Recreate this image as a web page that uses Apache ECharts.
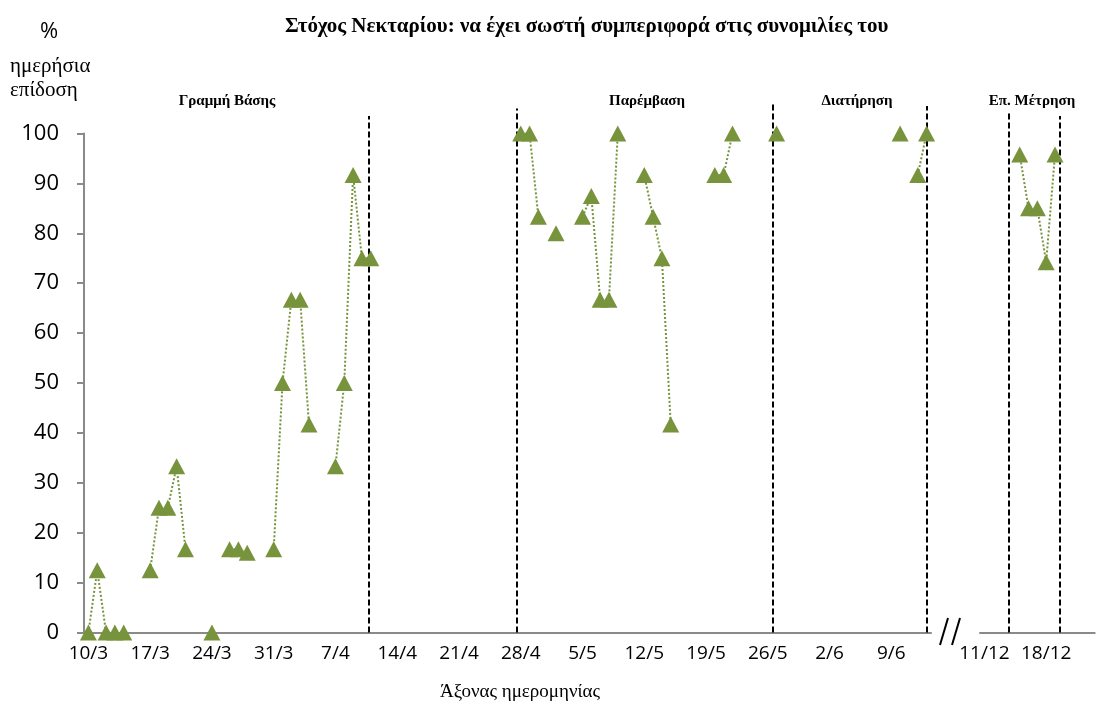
<!DOCTYPE html>
<html lang="el">
<head>
<meta charset="UTF-8">
<script src="https://cdn.jsdelivr.net/npm/echarts@6/dist/echarts.min.js"></script>
<style>
  html, body { margin: 0; background: #fff; }
  #chart { width: 1096px; height: 702px; }
</style>
</head>
<body>
<div id="chart"></div>
<script>
    // one category per day, labels as d/m
    function dayRange(y, m, d, count) {
        var out = [];
        var t0 = Date.UTC(y, m - 1, d);
        for (var i = 0; i < count; i++) {
            var dt = new Date(t0 + i * 86400000);
            out.push(dt.getUTCDate() + '/' + (dt.getUTCMonth() + 1));
        }
        return out;
    }
    var springDays = dayRange(2013, 3, 10, 96);   // 10/3 .. 13/6
    var winterDays = dayRange(2013, 12, 11, 13);  // 11/12 .. 23/12

    var baseline = [
        ['10/3', 0], ['11/3', 12.5], ['12/3', 0], ['13/3', 0], ['14/3', 0],
        ['17/3', 12.5], ['18/3', 25], ['19/3', 25], ['20/3', 33.3], ['21/3', 16.7],
        ['24/3', 0],
        ['26/3', 16.7], ['27/3', 16.7], ['28/3', 16],
        ['31/3', 16.7], ['1/4', 50], ['2/4', 66.7], ['3/4', 66.7], ['4/4', 41.7],
        ['7/4', 33.3], ['8/4', 50], ['9/4', 91.7], ['10/4', 75], ['11/4', 75]
    ];
    var intervention = [
        ['28/4', 100], ['29/4', 100], ['30/4', 83.3],
        ['2/5', 80],
        ['5/5', 83.3], ['6/5', 87.5], ['7/5', 66.7], ['8/5', 66.7], ['9/5', 100],
        ['12/5', 91.7], ['13/5', 83.3], ['14/5', 75], ['15/5', 41.7],
        ['20/5', 91.7], ['21/5', 91.7], ['22/5', 100]
    ];
    var maintenance = [
        ['27/5', 100], ['10/6', 100], ['12/6', 91.7], ['13/6', 100]
    ];
    var followUp = [
        ['15/12', 95.8], ['16/12', 85], ['17/12', 85], ['18/12', 74.2], ['19/12', 95.8]
    ];

    // phase change lines, in days from the start of each axis segment
    var springChanges = [32.3, 49.1, 78.06, 95.5];
    var springChangeTops = [103.5, 105, 106.2, 105.5];
    var winterChanges = [3.25, 9.0];
    var winterChangeTops = [104.4, 103.5];

    var phaseNames = ['Γραμμή Βάσης', 'Παρέμβαση', 'Διατήρηση', 'Επ. Μέτρηση'];
    var phaseNameX = [227, 647, 857, 1032];

    function fill(days, pts) {
        var m = {};
        pts.forEach(function (p) { m[p[0]] = p[1]; });
        return days.map(function (d) { return m.hasOwnProperty(d) ? m[d] : null; });
    }

    var green = '#77933C';
    var axisGray = '#8a8a8a';
    var weekly = function (idx) { return idx % 7 === 0; };

    function dataSeries(xi, yi, values) {
        return {
            type: 'line', xAxisIndex: xi, yAxisIndex: yi,
            data: values, connectNulls: false, showAllSymbol: true,
            symbol: 'triangle', symbolSize: [17, 16],
            itemStyle: {color: green},
            lineStyle: {color: green, width: 2, type: 'dotted'},
            emphasis: {disabled: true}, silent: true, z: 3
        };
    }
    function changeSeries(xi, yi, xs, tops) {
        return {
            type: 'lines', coordinateSystem: 'cartesian2d', xAxisIndex: xi, yAxisIndex: yi,
            clip: false, silent: true, z: 2,
            lineStyle: {color: '#000', width: 2, type: [6, 3], opacity: 1},
            data: xs.map(function (x, k) { return {coords: [[x, 0], [x, tops[k]]]}; })
        };
    }

    var catAxis = function (grid, days) {
        return {
            type: 'category', gridIndex: grid, data: days, boundaryGap: true,
            axisLine: {lineStyle: {color: axisGray, width: 2}},
            axisTick: {length: 6, interval: weekly, lineStyle: {color: axisGray, width: 2}},
            axisLabel: {interval: weekly, color: '#000', fontSize: 19, fontFamily: 'Open Sans', margin: 12},
            splitLine: {show: false}
        };
    };

    var serif = '"Liberation Serif", "DejaVu Serif", serif';
    var graphics = [
        {type: 'text', x: 285, y: 27, style: {text: 'Στόχος Νεκταρίου: να έχει σωστή συμπεριφορά στις συνομιλίες του',
            font: 'bold 21px ' + serif, fill: '#000', textAlign: 'left', textVerticalAlign: 'middle'}},
        {type: 'text', x: 49, y: 32, style: {text: '%', font: '22px "Open Sans"', fill: '#000', textAlign: 'center', textVerticalAlign: 'middle'}},
        {type: 'text', x: 10, y: 66, style: {text: 'ημερήσια', font: '21px ' + serif, fill: '#000', textAlign: 'left', textVerticalAlign: 'middle'}},
        {type: 'text', x: 10, y: 90, style: {text: 'επίδοση', font: '21px ' + serif, fill: '#000', textAlign: 'left', textVerticalAlign: 'middle'}},
        {type: 'text', x: 520, y: 692, style: {text: 'Άξονας ημερομηνίας', font: '19px ' + serif, fill: '#000', textAlign: 'center', textVerticalAlign: 'middle'}},
        // axis break marks
        {type: 'line', shape: {x1: 940, y1: 645, x2: 948, y2: 618}, style: {stroke: '#000', lineWidth: 2}},
        {type: 'line', shape: {x1: 952, y1: 645, x2: 960, y2: 618}, style: {stroke: '#000', lineWidth: 2}}
    ];
    phaseNames.forEach(function (n, k) {
        graphics.push({type: 'text', x: phaseNameX[k], y: 101, style: {text: n, font: 'bold 15px ' + serif,
            fill: '#000', textAlign: 'center', textVerticalAlign: 'middle'}});
    });

    var myChart = echarts.init(document.getElementById('chart'));
    myChart.setOption({
        backgroundColor: '#fff',
        animation: false,
        grid: [
            {left: 84, width: 847, top: 133.5, bottom: 69.5},
            {left: 980, width: 114.7, top: 133.5, bottom: 69.5}
        ],
        xAxis: [
            catAxis(0, springDays),
            {type: 'value', gridIndex: 0, min: 0, max: springDays.length, show: false},
            catAxis(1, winterDays),
            {type: 'value', gridIndex: 1, min: 0, max: winterDays.length, show: false}
        ],
        yAxis: [
            {
                type: 'value', gridIndex: 0, min: 0, max: 100, interval: 10,
                axisLine: {show: true, lineStyle: {color: axisGray, width: 2}},
                axisTick: {show: true, length: 7, lineStyle: {color: axisGray, width: 2}},
                axisLabel: {color: '#000', fontSize: 22, fontFamily: 'Open Sans', margin: 25},
                splitLine: {show: false}
            },
            {type: 'value', gridIndex: 1, min: 0, max: 100, show: false}
        ],
        graphic: graphics,
        series: [
            dataSeries(0, 0, fill(springDays, baseline)),
            dataSeries(0, 0, fill(springDays, intervention)),
            dataSeries(0, 0, fill(springDays, maintenance)),
            dataSeries(2, 1, fill(winterDays, followUp)),
            changeSeries(1, 0, springChanges, springChangeTops),
            changeSeries(3, 1, winterChanges, winterChangeTops)
        ]
    });
</script>
</body>
</html>
